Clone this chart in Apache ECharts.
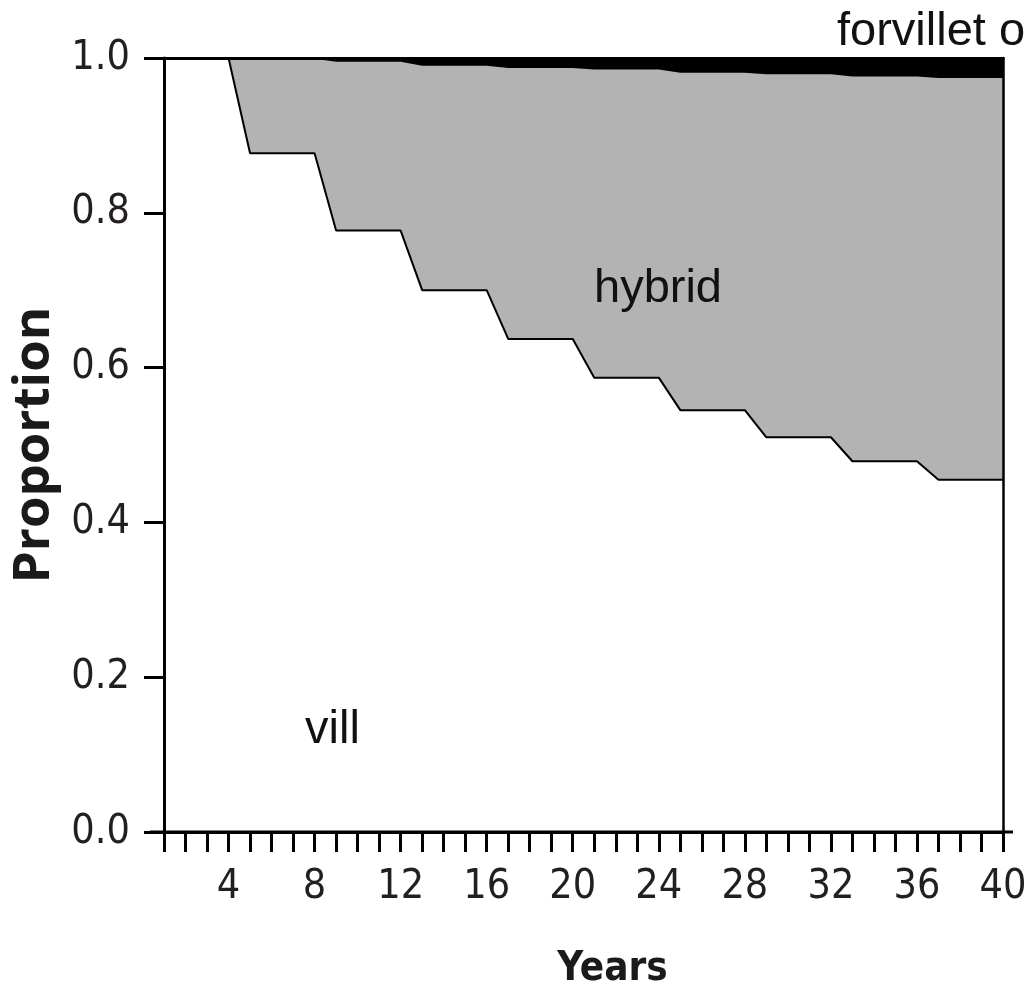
<!DOCTYPE html>
<html>
<head>
<meta charset="utf-8">
<script src="https://cdn.jsdelivr.net/npm/echarts@6/dist/echarts.min.js"></script>
<style>
html,body{margin:0;padding:0;background:#fff;}
#chart{width:1027px;height:995px;}
</style>
</head>
<body>
<div id="chart"></div>
<script>
// Years 1..40
const years = [1,2,3,4,5,6,7,8,9,10,11,12,13,14,15,16,17,18,19,20,21,22,23,24,25,26,27,28,29,30,31,32,33,34,35,36,37,38,39,40];
// Proportion "vill"
const vill = [1.0,1.0,1.0,1.0, 0.877,0.877,0.877,0.877, 0.777,0.777,0.777,0.777, 0.700,0.700,0.700,0.700, 0.637,0.637,0.637,0.637, 0.587,0.587,0.587,0.587, 0.545,0.545,0.545,0.545, 0.510,0.510,0.510,0.510, 0.479,0.479,0.479,0.479, 0.455,0.455,0.455,0.455];
// Proportion "hybrid"
const hybrid = [0,0,0,0, 0.122,0.122,0.122,0.122, 0.218,0.218,0.218,0.218, 0.290,0.290,0.290,0.290, 0.350,0.350,0.350,0.350, 0.398,0.398,0.398,0.398, 0.436,0.436,0.436,0.436, 0.469,0.469,0.469,0.469, 0.497,0.497,0.497,0.497, 0.519,0.519,0.519,0.519];
// Proportion "forvillet"
const forvillet = [0,0,0,0, 0.001,0.001,0.001,0.001, 0.005,0.005,0.005,0.005, 0.010,0.010,0.010,0.010, 0.013,0.013,0.013,0.013, 0.015,0.015,0.015,0.015, 0.019,0.019,0.019,0.019, 0.021,0.021,0.021,0.021, 0.024,0.024,0.024,0.024, 0.026,0.026,0.026,0.026];
const yTicks = [0.0,0.2,0.4,0.6,0.8,1.0];
const xLabelEvery = 4;

// cumulative layers (drawn from zero, back to front)
const cumHybrid = years.map((y,i)=>[y, vill[i] + hybrid[i]]);
const cumAll = years.map((y,i)=>[y, vill[i] + hybrid[i] + forvillet[i]]);
const villPts = years.map((y,i)=>[y, vill[i]]);

const chart = echarts.init(document.getElementById('chart'), null, {renderer:'canvas'});
const tickFont = '"DejaVu Sans Condensed","Liberation Sans Narrow",sans-serif';
const annFont = '47px "Liberation Sans", Arial, sans-serif';
chart.setOption({
  animation:false,
  backgroundColor:'#fff',
  grid:{left:164, right:24, top:58, bottom:163, show:false, containLabel:false, outerBoundsMode:'none'},
  xAxis:[{
    type:'value', min:1, max:40, interval:1, z:10,
    name:'Years', nameLocation:'middle', nameGap:118,
    nameTextStyle:{fontFamily:tickFont, fontWeight:'bold', fontSize:40, color:'#1a1a1a', padding:[0,0,0,58]},
    axisLine:{show:true, onZero:false, lineStyle:{color:'#000', width:3}},
    axisTick:{show:true, length:20, lineStyle:{color:'#000', width:3}},
    axisLabel:{margin:35, fontFamily:tickFont, fontSize:41, color:'#231f20',
      formatter:v => (v % xLabelEvery === 0 ? String(v) : '')},
    splitLine:{show:false}
  },{
    type:'value', min:1, max:40, position:'top', z:10,
    axisLine:{show:true, onZero:false, lineStyle:{color:'#000', width:3}},
    axisTick:{show:false}, axisLabel:{show:false}, splitLine:{show:false}
  }],
  yAxis:[{
    type:'value', min:0, max:1, interval:0.2, z:10,
    name:'Proportion', nameLocation:'middle', nameGap:102, nameRotate:90,
    nameTextStyle:{fontFamily:'"Open Sans",sans-serif', fontWeight:'bold', fontSize:51, color:'#1a1a1a'},
    axisLine:{show:true, onZero:false, lineStyle:{color:'#000', width:3}},
    axisTick:{show:true, length:20, lineStyle:{color:'#000', width:3}},
    axisLabel:{margin:34, fontFamily:tickFont, fontSize:41, color:'#231f20',
      formatter:v => { const t = yTicks.find(k=>Math.abs(k-v)<1e-9); return (t===undefined? v : t).toFixed(1); }},
    splitLine:{show:false}
  },{
    type:'value', min:0, max:1, position:'right', z:10,
    axisLine:{show:true, onZero:false, lineStyle:{color:'#000', width:2.5}},
    axisTick:{show:false}, axisLabel:{show:false}, splitLine:{show:false}
  }],
  series:[
    {name:'forvillet', type:'line', data:cumAll, symbol:'none', z:2,
     lineStyle:{width:0}, areaStyle:{color:'#000', opacity:1}},
    {name:'hybrid', type:'line', data:cumHybrid, symbol:'none', z:3,
     lineStyle:{width:0}, areaStyle:{color:'#b3b3b3', opacity:1}},
    {name:'vill', type:'line', data:villPts, symbol:'none', z:4,
     lineStyle:{color:'#000', width:2}, areaStyle:{color:'#fff', opacity:1}}
  ],
  graphic:[
    {id:'tHybrid', type:'text', z:100, left:594, top:266, style:{text:'hybrid', font:annFont, fill:'#111'}},
    {id:'tVill', type:'text', z:100, left:305, top:707, style:{text:'vill', font:annFont, fill:'#111'}},
    {id:'tForv', type:'text', z:100, left:837, top:9, style:{text:'forvillet o', font:annFont, fill:'#111'}}
  ]
});

// x-axis baseline extends a little beyond the plot on both sides
const p0 = chart.convertToPixel({xAxisIndex:0, yAxisIndex:0}, [1, 0]);
const p1 = chart.convertToPixel({xAxisIndex:0, yAxisIndex:0}, [40, 0]);
chart.setOption({graphic:{elements:[
  {id:'xbase', type:'line', z:50, shape:{x1:p0[0]-14, y1:p0[1], x2:p1[0]+10, y2:p1[1]}, style:{stroke:'#000', lineWidth:3}}
]}});
</script>
</body>
</html>
